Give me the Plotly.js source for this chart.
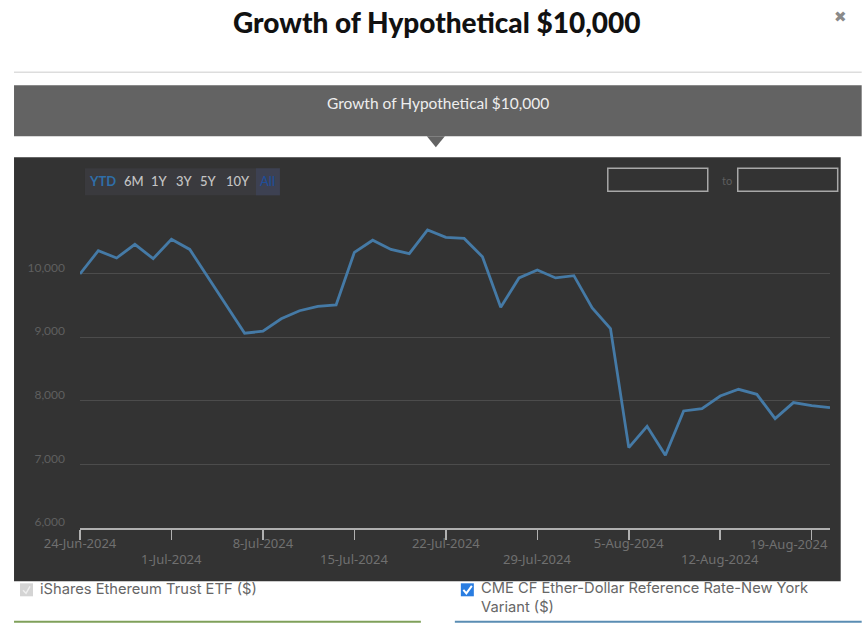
<!DOCTYPE html>
<html><head><meta charset="utf-8">
<script src="https://cdn.plot.ly/plotly-3.0.1.min.js"></script>
<style>html,body{margin:0;padding:0;background:#fff;overflow:hidden}#c{width:864px;height:628px}</style>
</head><body><div id="c"></div>
<script>
var dates = ["2024-06-24","2024-06-25","2024-06-26","2024-06-27","2024-06-28",
"2024-07-01","2024-07-02","2024-07-03","2024-07-04","2024-07-05",
"2024-07-08","2024-07-09","2024-07-10","2024-07-11","2024-07-12",
"2024-07-15","2024-07-16","2024-07-17","2024-07-18","2024-07-19",
"2024-07-22","2024-07-23","2024-07-24","2024-07-25","2024-07-26",
"2024-07-29","2024-07-30","2024-07-31","2024-08-01","2024-08-02",
"2024-08-05","2024-08-06","2024-08-07","2024-08-08","2024-08-09",
"2024-08-12","2024-08-13","2024-08-14","2024-08-15","2024-08-16",
"2024-08-19","2024-08-20"];
var values = [9994,10360,10245,10460,10235,
10540,10380,9942,9503,9062,
9094,9290,9416,9484,9508,
10335,10525,10380,10315,10686,
10570,10553,10265,9472,9932,
10056,9932,9968,9462,9135,
7264,7599,7143,7840,7877,
8075,8181,8102,7720,7972,
7925,7893];
var tickDates = ["2024-06-24","2024-07-01","2024-07-08","2024-07-15","2024-07-22","2024-07-29","2024-08-05","2024-08-12","2024-08-19"];
var tickLabels = ["24-Jun-2024","","8-Jul-2024","","22-Jul-2024","","5-Aug-2024","",""];
var lowerDates = ["2024-07-01","2024-07-15","2024-07-29","2024-08-12"];
var lowerLabels = ["1-Jul-2024","15-Jul-2024","29-Jul-2024","12-Aug-2024"];
var lastLabel = "19-Aug-2024";
var yTicks = [6000,7000,8000,9000,10000,11000];
var yLabels = ["6,000","7,000","8,000","9,000","10,000",""];
var periods = ["YTD","6M","1Y","3Y","5Y","10Y","All"];
var periodX = [103,134,160,185,209,238,268];
var title = "Growth of Hypothetical $10,000";
var seriesA = "iShares Ethereum Trust ETF ($)";
var seriesB = "CME CF Ether-Dollar Reference Rate-New York<br>Variant ($)";

var W=864,H=628,font="Lato, 'Noto Sans', sans-serif",axisFont="'Noto Sans', sans-serif",legFont="Inter, 'Noto Sans', sans-serif";
var L=80,R=830.3,T=209.7,B=527.7;
function px(x){return (x-L)/(R-L);}
function py(y){return (B-y)/(B-T);}
function rect(x0,y0,x1,y1,fill,line,lw,layer){return {type:'rect',xref:'paper',yref:'paper',x0:px(x0),x1:px(x1),y0:py(y0),y1:py(y1),fillcolor:fill,line:{color:line||fill,width:lw===undefined?0:lw},layer:layer||'below'};}
function seg(x0,y0,x1,y1,c,w){return {type:'line',xref:'paper',yref:'paper',x0:px(x0),x1:px(x1),y0:py(y0),y1:py(y1),line:{color:c,width:w},layer:'below'};}
function tri(pts,fill){var p=pts.map(function(q,i){return (i?'L':'M')+px(q[0])+','+py(q[1]);}).join(' ')+' Z';return {type:'path',xref:'paper',yref:'paper',path:p,fillcolor:fill,line:{width:0},layer:'below'};}
function poly(pts,c,w){var p=pts.map(function(q,i){return (i?'L':'M')+px(q[0])+','+py(q[1]);}).join(' ');return {type:'path',xref:'paper',yref:'paper',path:p,line:{color:c,width:w},layer:'above'};}
function txt(x,y,t,size,color,anchor,extra){var a={xref:'paper',yref:'paper',x:px(x),y:py(y),text:t,showarrow:false,xanchor:anchor||'center',yanchor:'middle',align:'left',font:{size:size,color:color,family:font}};for(var k in (extra||{}))a[k]=extra[k];return a;}

var shapes=[
 seg(14,72,862,72,'#dddddd',1.5),
 rect(14,85,862,136,'#636363'),
 tri([[427,136],[445,136],[436,147]],'#636363'),
 rect(14,157,841,581,'#333333'),
 rect(85,168,280,195,'#3a3a3e'),
 rect(256,168,280,195,'#3d4152'),
 rect(608,168,708,191,'rgba(0,0,0,0)','#a8a8a8',1.5),
 rect(738,168,838,191,'rgba(0,0,0,0)','#a8a8a8',1.5),
 rect(20,583,33,596,'#d4d4d4'),
 rect(461,583,474,596,'#2a7de1'),
 poly([[463.5,589.5],[466.5,593],[472,585.5]],'#ffffff',2),
 poly([[23,590],[26,593],[30,586]],'#efefef',1.5),
 seg(14,621.5,421,621.5,'#7fa05a',2),
 seg(455,621.5,862,621.5,'#5a8db3',2)
];
var ann=[
 txt(437.5,21.5,title,28,'#111111','center',{font:{size:28,color:'#111111',family:font,weight:900}}),
 txt(438,102.5,title,15.5,'#eeeeee'),
 txt(841,16,"✖",15,'#8a8a8a'),
 txt(720,180,"to",11,'#5e5e5e','left'),
 txt(38,589,seriesA,14.7,'#666666','left',{font:{size:14.7,color:'#666666',family:legFont}}),
 txt(479,597,seriesB,14.7,'#666666','left',{font:{size:14.7,color:'#666666',family:legFont}}),
 {xref:'paper',yref:'paper',x:px(830),y:py(543.5),text:lastLabel,showarrow:false,xanchor:'right',yanchor:'middle',font:{size:13,color:'#707070',family:axisFont}}
];
lowerDates.forEach(function(d,i){
 ann.push({xref:'x',yref:'paper',x:d,y:py(558.5),text:lowerLabels[i],showarrow:false,xanchor:'center',yanchor:'middle',font:{size:13,color:'#707070',family:axisFont}});
});
periods.forEach(function(p,i){
 var c=i===0?'#2f6ea8':(i===6?'#1f4e9a':'#c4c4c4');
 ann.push(txt(periodX[i],180.5,p,13,c,'center',{font:{size:13,color:c,family:font,weight:i===0?700:500}}));
});

var trace={type:'scatter',mode:'lines',x:dates,y:values,line:{color:'#457aa6',width:2.8,shape:'linear'},hoverinfo:'skip',showlegend:false,cliponaxis:false};
var layout={
 width:W,height:H,autosize:false,
 paper_bgcolor:'#ffffff',plot_bgcolor:'rgba(0,0,0,0)',
 margin:{l:L,r:W-R,t:T,b:H-B,pad:0},
 showlegend:false,
 xaxis:{type:'date',range:[dates[0],dates[dates.length-1]],rangebreaks:[{bounds:['sat','mon']}],
   tickmode:'array',tickvals:tickDates,ticktext:tickLabels,ticks:'outside',ticklen:10,tickwidth:1.5,tickcolor:'#b0b0b0',
   showline:true,linecolor:'#b0b0b0',linewidth:1.5,showgrid:false,zeroline:false,ticklabelstandoff:-7,
   tickangle:0,tickfont:{size:13,color:'#707070',family:axisFont},fixedrange:true},
 yaxis:{range:[6000,11000],tickmode:'array',tickvals:yTicks,ticktext:yLabels,showgrid:true,gridcolor:'#4c4c4c',gridwidth:1,
   zeroline:false,showline:false,ticks:'',tickfont:{size:12,color:'#5f5f5f',family:font},ticklabelstandoff:14,ticklabelshift:-6,fixedrange:true},
 shapes:shapes,annotations:ann
};
Plotly.newPlot('c',[trace],layout,{displayModeBar:false,staticPlot:true});
</script></body></html>
